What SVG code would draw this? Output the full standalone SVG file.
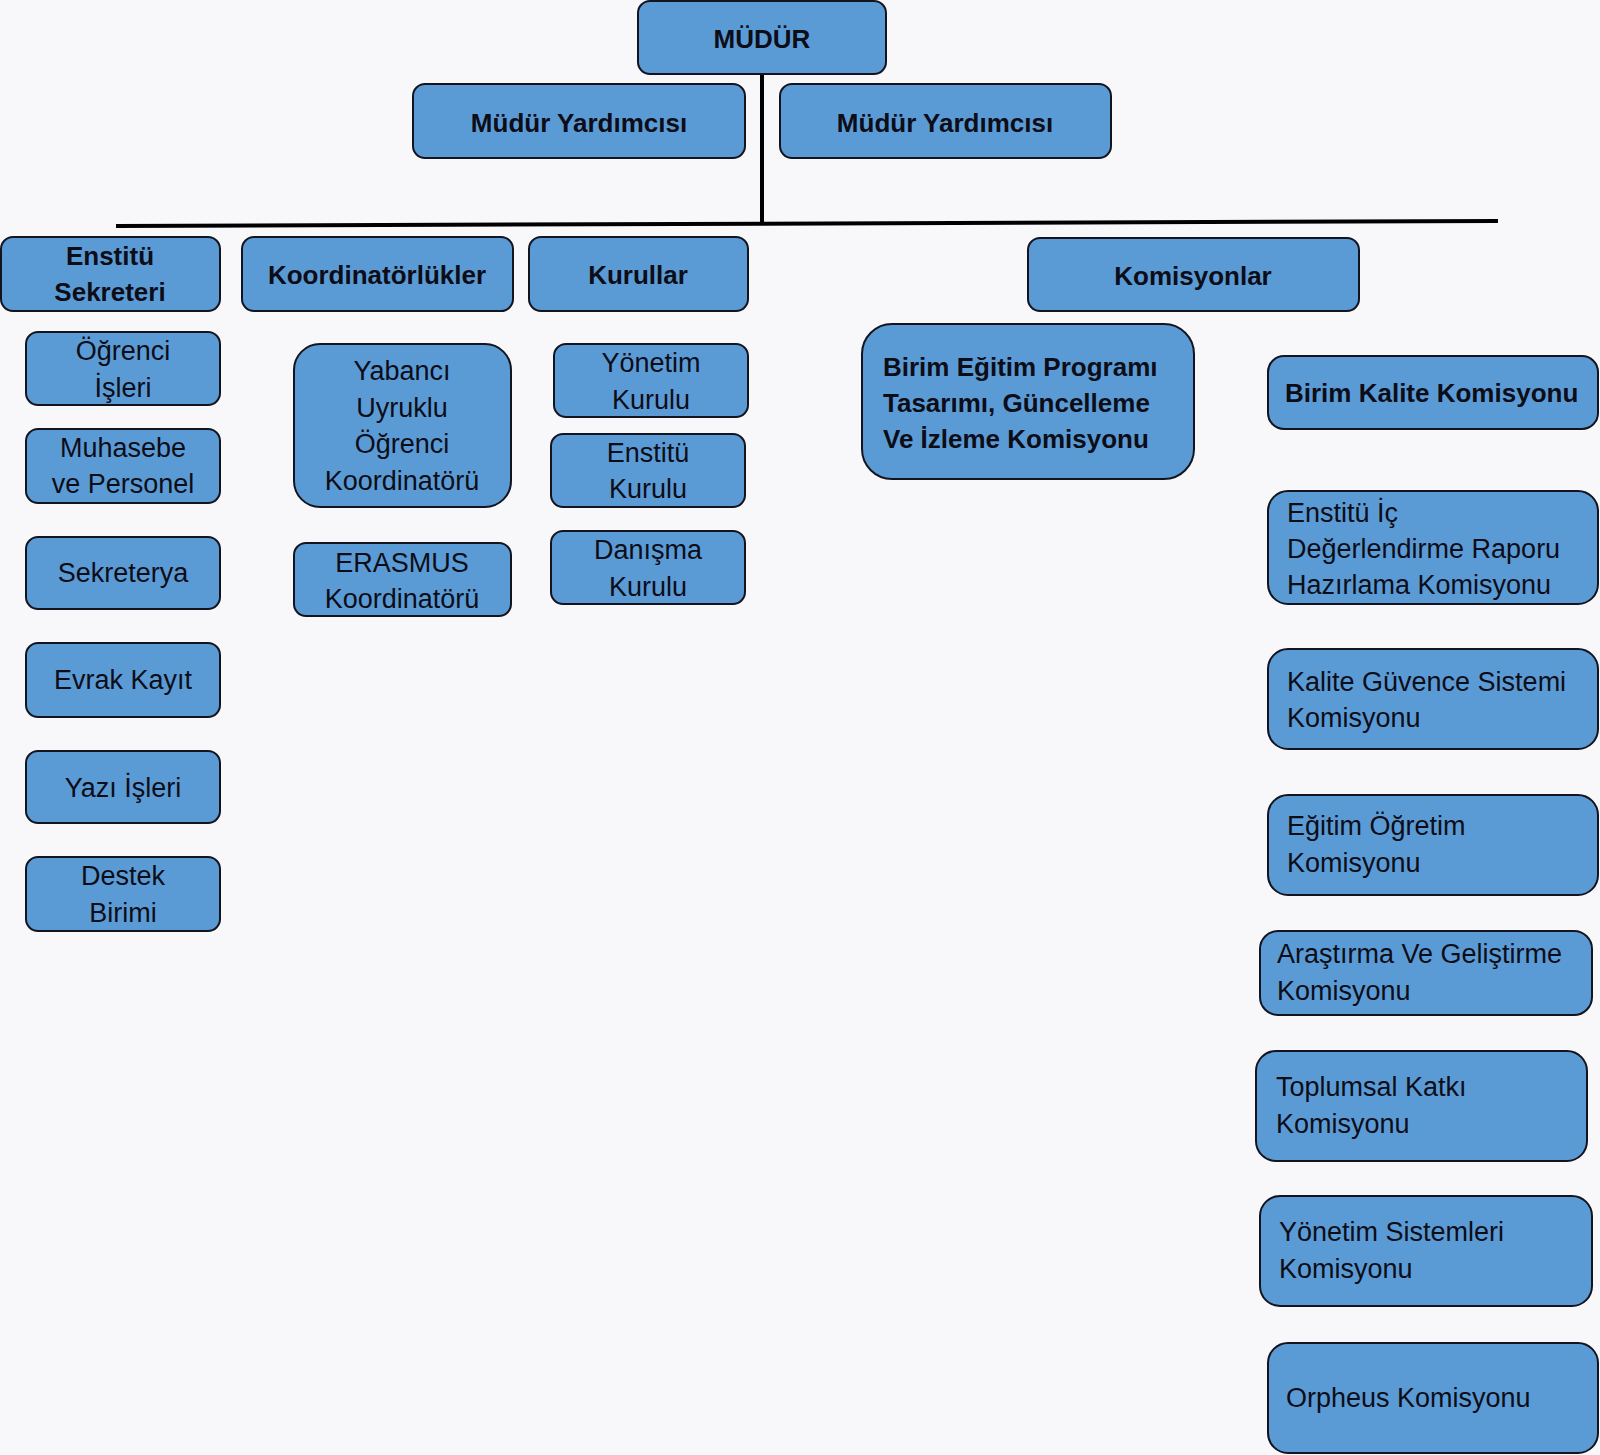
<svg xmlns="http://www.w3.org/2000/svg" width="1600" height="1455" viewBox="0 0 1600 1455">
<style>
.bg{fill:#f8f8fb}
.box{fill:#5b9bd5;stroke:#14141f;stroke-width:2}
.t{font-family:"Liberation Sans",Arial,sans-serif;font-size:27px;fill:#0d0d18}
.b{font-family:"Liberation Sans",Arial,sans-serif;font-size:26px;font-weight:bold;fill:#0d0d18}
.m{text-anchor:middle}
.ln{stroke:#000;stroke-width:4;fill:none}
</style>
<rect class="bg" x="0" y="0" width="1600" height="1455"/>
<g id="connectors">
<line class="ln" x1="762" y1="74" x2="762" y2="223"/>
<line class="ln" x1="116" y1="226" x2="1498" y2="221"/>
</g>
<g id="mudur"><rect class="box" x="638" y="1" width="248" height="73" rx="12"/><text class="b m" x="762" y="48">MÜDÜR</text></g>
<g id="yardimci1"><rect class="box" x="413" y="84" width="332" height="74" rx="12"/><text class="b m" x="579" y="132">Müdür Yardımcısı</text></g>
<g id="yardimci2"><rect class="box" x="780" y="84" width="331" height="74" rx="12"/><text class="b m" x="945" y="132">Müdür Yardımcısı</text></g>

<g id="sekreter"><rect class="box" x="1" y="237" width="219" height="74" rx="12"/><text class="b m" x="110" y="265">Enstitü</text><text class="b m" x="110" y="301">Sekreteri</text></g>
<g id="koord"><rect class="box" x="242" y="237" width="271" height="74" rx="12"/><text class="b m" x="377" y="284">Koordinatörlükler</text></g>
<g id="kurullar"><rect class="box" x="529" y="237" width="219" height="74" rx="12"/><text class="b m" x="638" y="284">Kurullar</text></g>
<g id="komisyonlar"><rect class="box" x="1028" y="238" width="331" height="73" rx="12"/><text class="b m" x="1193" y="285">Komisyonlar</text></g>

<g id="ogrenci"><rect class="box" x="26" y="332" width="194" height="73" rx="12"/><text class="t m" x="123" y="360">Öğrenci</text><text class="t m" x="123" y="397">İşleri</text></g>
<g id="muhasebe"><rect class="box" x="26" y="429" width="194" height="74" rx="12"/><text class="t m" x="123" y="457">Muhasebe</text><text class="t m" x="123" y="493">ve Personel</text></g>
<g id="sekreterya"><rect class="box" x="26" y="537" width="194" height="72" rx="12"/><text class="t m" x="123" y="582">Sekreterya</text></g>
<g id="evrak"><rect class="box" x="26" y="643" width="194" height="74" rx="12"/><text class="t m" x="123" y="689">Evrak Kayıt</text></g>
<g id="yazi"><rect class="box" x="26" y="751" width="194" height="72" rx="12"/><text class="t m" x="123" y="797">Yazı İşleri</text></g>
<g id="destek"><rect class="box" x="26" y="857" width="194" height="74" rx="12"/><text class="t m" x="123" y="885">Destek</text><text class="t m" x="123" y="922">Birimi</text></g>

<g id="yabanci"><rect class="box" x="294" y="344" width="217" height="163" rx="26"/><text class="t m" x="402" y="380">Yabancı</text><text class="t m" x="402" y="417">Uyruklu</text><text class="t m" x="402" y="453">Öğrenci</text><text class="t m" x="402" y="490">Koordinatörü</text></g>
<g id="erasmus"><rect class="box" x="294" y="543" width="217" height="73" rx="12"/><text class="t m" x="402" y="572">ERASMUS</text><text class="t m" x="402" y="608">Koordinatörü</text></g>

<g id="yonetim"><rect class="box" x="554" y="344" width="194" height="73" rx="12"/><text class="t m" x="651" y="372">Yönetim</text><text class="t m" x="651" y="409">Kurulu</text></g>
<g id="enstitukurulu"><rect class="box" x="551" y="434" width="194" height="73" rx="12"/><text class="t m" x="648" y="462">Enstitü</text><text class="t m" x="648" y="498">Kurulu</text></g>
<g id="danisma"><rect class="box" x="551" y="531" width="194" height="73" rx="12"/><text class="t m" x="648" y="559">Danışma</text><text class="t m" x="648" y="596">Kurulu</text></g>

<g id="birimegitim"><rect class="box" x="862" y="324" width="332" height="155" rx="30"/><text class="b" x="883" y="376">Birim Eğitim Programı</text><text class="b" x="883" y="412">Tasarımı, Güncelleme</text><text class="b" x="883" y="448">Ve İzleme Komisyonu</text></g>
<g id="birimkalite"><rect class="box" x="1268" y="356" width="330" height="73" rx="16"/><text class="b" x="1285" y="402">Birim Kalite Komisyonu</text></g>
<g id="icdeger"><rect class="box" x="1268" y="491" width="330" height="113" rx="20"/><text class="t" x="1287" y="522">Enstitü İç</text><text class="t" x="1287" y="558">Değerlendirme Raporu</text><text class="t" x="1287" y="594">Hazırlama Komisyonu</text></g>
<g id="kaliteguvence"><rect class="box" x="1268" y="649" width="330" height="100" rx="20"/><text class="t" x="1287" y="691">Kalite Güvence Sistemi</text><text class="t" x="1287" y="727">Komisyonu</text></g>
<g id="egitimogretim"><rect class="box" x="1268" y="795" width="330" height="100" rx="20"/><text class="t" x="1287" y="835">Eğitim Öğretim</text><text class="t" x="1287" y="872">Komisyonu</text></g>
<g id="arastirma"><rect class="box" x="1260" y="931" width="332" height="84" rx="18"/><text class="t" x="1277" y="963">Araştırma Ve Geliştirme</text><text class="t" x="1277" y="1000">Komisyonu</text></g>
<g id="toplumsal"><rect class="box" x="1256" y="1051" width="331" height="110" rx="20"/><text class="t" x="1276" y="1096">Toplumsal Katkı</text><text class="t" x="1276" y="1133">Komisyonu</text></g>
<g id="yonetimsis"><rect class="box" x="1260" y="1196" width="332" height="110" rx="20"/><text class="t" x="1279" y="1241">Yönetim Sistemleri</text><text class="t" x="1279" y="1278">Komisyonu</text></g>
<g id="orpheus"><rect class="box" x="1268" y="1343" width="330" height="110" rx="20"/><text class="t" x="1286" y="1407">Orpheus Komisyonu</text></g>
</svg>
